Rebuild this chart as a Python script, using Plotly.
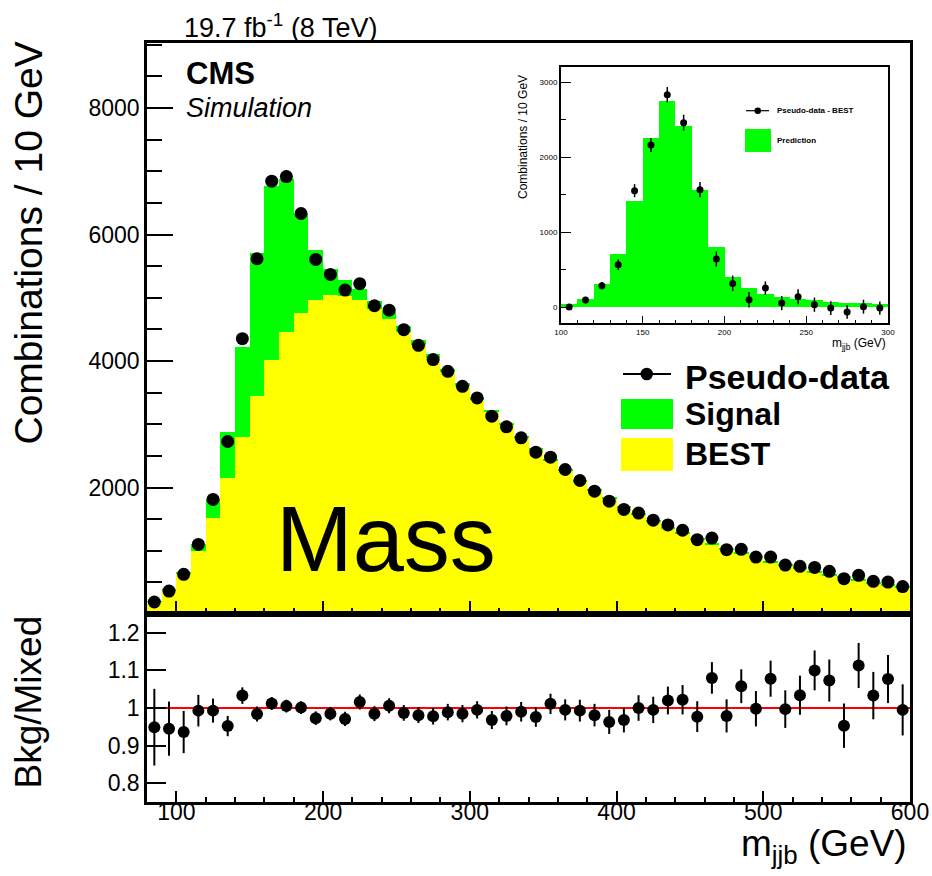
import plotly.graph_objects as go

# ---- binning: 10 GeV bins from 80 to 600 GeV (bin centres) ----
mjjb = [85, 95, 105, 115, 125, 135, 145, 155, 165, 175,
        185, 195, 205, 215, 225, 235, 245, 255, 265, 275,
        285, 295, 305, 315, 325, 335, 345, 355, 365, 375,
        385, 395, 405, 415, 425, 435, 445, 455, 465, 475,
        485, 495, 505, 515, 525, 535, 545, 555, 565, 575,
        585, 595]

# BEST background (yellow)
best = [195, 369, 625, 992, 1513, 2158, 2800, 3448, 4018, 4453,
        4758, 4959, 5050, 5023, 4960, 4815, 4669, 4460, 4254, 4050,
        3822, 3606, 3389, 3188, 2982, 2776, 2586, 2419, 2265, 2097,
        1953, 1827, 1684, 1572, 1469, 1359, 1275, 1184, 1093, 1021,
        949, 886, 819, 761, 713, 656, 614, 574, 536, 488,
        457, 423]

# correct-combination signal (green, stacked on BEST)
signal = [5, 15, 45, 116, 311, 716, 1422, 2258, 2751, 2422,
          1569, 800, 409, 262, 178, 138, 116, 94, 76, 62,
          58, 49, 45, 42, 40, 37, 35, 33, 31, 29,
          27, 26, 24, 23, 22, 21, 20, 19, 18, 18,
          17, 16, 16, 15, 15, 14, 14, 13, 13, 12,
          12, 12]

# pseudo-data
pseudo = [190, 363, 627, 1100, 1811, 2727, 4353, 5617, 6843, 6916,
          6332, 5606, 5369, 5122, 5222, 4874, 4803, 4495, 4248, 4022,
          3837, 3600, 3417, 3127, 2959, 2785, 2558, 2479, 2285, 2111,
          1942, 1784, 1653, 1595, 1484, 1408, 1324, 1175, 1200, 1017,
          1022, 900, 900, 774, 753, 737, 674, 559, 611, 516,
          505, 433]

# lower panel: Bkg/Mixed ratio and its uncertainty
ratio = [0.949, 0.945, 0.936, 0.993, 0.993, 0.952, 1.033, 0.984, 1.012, 1.005,
         1.001, 0.973, 0.985, 0.971, 1.016, 0.985, 1.006, 0.987, 0.981, 0.978,
         0.989, 0.985, 0.995, 0.968, 0.979, 0.990, 0.976, 1.011, 0.995, 0.993,
         0.981, 0.963, 0.968, 1.000, 0.995, 1.020, 1.022, 0.977, 1.080, 0.979,
         1.058, 0.998, 1.078, 0.997, 1.034, 1.100, 1.073, 0.953, 1.113, 1.033,
         1.077, 0.995]
ratio_err = [0.102, 0.072, 0.056, 0.042, 0.032, 0.027, 0.022, 0.020, 0.017, 0.017,
             0.017, 0.018, 0.018, 0.019, 0.020, 0.020, 0.020, 0.021, 0.021, 0.022,
             0.022, 0.023, 0.023, 0.024, 0.025, 0.026, 0.026, 0.027, 0.028, 0.029,
             0.030, 0.032, 0.033, 0.034, 0.035, 0.037, 0.039, 0.041, 0.042, 0.044,
             0.045, 0.047, 0.048, 0.050, 0.052, 0.053, 0.056, 0.059, 0.060, 0.063,
             0.064, 0.068]

# inset: pseudo-data minus BEST, 100-300 GeV
inset_x = [105, 115, 125, 135, 145, 155, 165, 175, 185, 195,
           205, 215, 225, 235, 245, 255, 265, 275, 285, 295]
inset_pts = [5, 98, 289, 569, 1556, 2165, 2836, 2462, 1569, 645,
             320, 102, 258, 58, 142, 36, -9, -62, 9, -9]
inset_err = [15, 42, 49, 71, 87, 93, 102, 107, 102, 100,
             104, 104, 89, 95, 100, 95, 92, 89, 93, 89]
inset_pred = [s for x, s in zip(mjjb, signal) if 100 < x < 300]

W, H = 932, 876
FONT = "Liberation Sans, Arial, Helvetica, sans-serif"
GREEN = "#00ff00"
YELLOW = "#ffff00"


def px(x):
    return x / W


def py(y):
    return 1 - y / H


fig = go.Figure()

# main panel: stacked histogram + pseudo-data
fig.add_trace(go.Bar(x=mjjb, y=best, width=10, marker=dict(color=YELLOW, line=dict(width=0)),
                     xaxis="x", yaxis="y", showlegend=False))
fig.add_trace(go.Bar(x=mjjb, y=signal, width=10, marker=dict(color=GREEN, line=dict(width=0)),
                     xaxis="x", yaxis="y", showlegend=False))
fig.add_trace(go.Scatter(x=mjjb, y=pseudo, mode="markers",
                         marker=dict(color="black", size=13),
                         xaxis="x", yaxis="y", showlegend=False))

# ratio panel
fig.add_trace(go.Scatter(x=[80, 600], y=[1, 1], mode="lines",
                         line=dict(color="#ff0000", width=2),
                         xaxis="x2", yaxis="y2", showlegend=False))
fig.add_trace(go.Scatter(x=mjjb, y=ratio, mode="markers",
                         marker=dict(color="black", size=12),
                         error_y=dict(type="data", array=ratio_err, color="black",
                                      thickness=2, width=0),
                         xaxis="x2", yaxis="y2", showlegend=False))
# carrier for the m_jjb tick-label axis under the ratio panel
fig.add_trace(go.Scatter(x=[80, 600], y=[1, 1], mode="markers",
                         marker=dict(opacity=0), hoverinfo="skip",
                         xaxis="x4", yaxis="y2", showlegend=False))

# inset
fig.add_trace(go.Bar(x=inset_x, y=inset_pred, width=10,
                     marker=dict(color=GREEN, line=dict(width=0)),
                     xaxis="x3", yaxis="y3", showlegend=False))
fig.add_trace(go.Scatter(x=inset_x, y=inset_pts, mode="markers",
                         marker=dict(color="black", size=7),
                         error_y=dict(type="data", array=inset_err, color="black",
                                      thickness=1.5, width=0),
                         xaxis="x3", yaxis="y3", showlegend=False))

xdom = [px(147), px(910)]
frame = dict(showline=True, linecolor="black", linewidth=2.5, mirror=True,
             showgrid=False, zeroline=False, ticks="inside", tickcolor="black",
             tickwidth=1.5, automargin=False)

layout = dict(
    width=W, height=H, autosize=False,
    margin=dict(l=0, r=0, t=0, b=0, pad=0, autoexpand=False),
    paper_bgcolor="white", plot_bgcolor="white",
    barmode="stack", bargap=0,
    font=dict(family=FONT, color="black"),
    xaxis=dict(frame, domain=xdom, range=[80, 600], anchor="y",
               showticklabels=False, tick0=0, dtick=100, ticklen=13,
               minor=dict(ticks="inside", tick0=0, dtick=20, ticklen=6,
                          tickcolor="black", tickwidth=1.5)),
    yaxis=dict(frame, domain=[py(614), py(43)], range=[0, 9028], anchor="x",
               tickmode="array", tickvals=[2000, 4000, 6000, 8000], ticklen=26,
               tickfont=dict(size=23, family=FONT),
               minor=dict(ticks="inside", tickmode="linear", tick0=0, dtick=500,
                          ticklen=15, tickcolor="black", tickwidth=1.5)),
    xaxis2=dict(frame, domain=xdom, range=[80, 600], anchor="y2",
                showticklabels=False, tick0=0, dtick=100, ticklen=11,
                minor=dict(ticks="inside", tick0=0, dtick=20, ticklen=5,
                           tickcolor="black", tickwidth=1.5)),
    xaxis4=dict(overlaying="x2", anchor="free", position=py(796), side="bottom",
                range=[80, 600], showline=False, showgrid=False, zeroline=False,
                ticks="", tick0=0, dtick=100, automargin=False,
                tickfont=dict(size=23, family=FONT)),
    yaxis2=dict(frame, domain=[py(802), py(614)], range=[0.75, 1.25], anchor="x2",
                tickmode="array", tickvals=[0.8, 0.9, 1.0, 1.1, 1.2],
                ticktext=["0.8", "0.9", "1", "1.1", "1.2"], ticklen=19,
                tickfont=dict(size=23, family=FONT)),
    xaxis3=dict(frame, domain=[px(561), px(888)], range=[100, 300], anchor="y3",
                linewidth=2, tick0=0, dtick=50, ticklen=7, tickwidth=1,
                tickfont=dict(size=8, family=FONT),
                minor=dict(ticks="inside", tick0=0, dtick=10, ticklen=3,
                           tickcolor="black", tickwidth=1)),
    yaxis3=dict(frame, domain=[py(323), py(67)], range=[-208, 3205], anchor="x3",
                linewidth=2, tick0=0, dtick=1000, ticklen=10, tickwidth=1,
                tickfont=dict(size=8, family=FONT),
                minor=dict(ticks="inside", tick0=0, dtick=500, ticklen=5,
                           tickcolor="black", tickwidth=1)),
)
fig.update_layout(**layout)

ann = []


def text(x, y, s, size, xa="left", ya="middle", angle=0, bold=False, italic=False):
    ann.append(dict(x=px(x), y=py(y), xref="paper", yref="paper", text=s,
                    showarrow=False, xanchor=xa, yanchor=ya, textangle=angle,
                    font=dict(size=size, family=FONT, color="black",
                              weight="bold" if bold else "normal",
                              style="italic" if italic else "normal")))


# axis titles
text(28, 40, "Combinations / 10 GeV", 39, xa="center", ya="top", angle=-90)
text(28, 614, "Bkg/Mixed", 37, xa="center", ya="top", angle=-90)
text(909, 846, "m<sub>jjb</sub> (GeV)", 37, xa="right")

# header labels
text(182, 26, "19.7 fb<sup>-1</sup> (8 TeV)", 27)
text(184, 74, "CMS", 31, bold=True)
text(184, 108, "Simulation", 27, italic=True)
text(386, 539, "Mass", 92, xa="center")

# main legend
text(683, 377, "Pseudo-data", 34, bold=True)
text(683, 414, "Signal", 32, bold=True)
text(683, 454, "BEST", 32, bold=True)

# inset titles and legend
text(523, 73, "Combinations / 10 GeV", 12, xa="center", ya="top", angle=-90)
text(888, 344, "m<sub>jjb</sub> (GeV)", 12, xa="right")
text(775, 111, "Pseudo-data - BEST", 8, bold=True)
text(775, 141, "Prediction", 8, bold=True)

fig.update_layout(annotations=ann)

shapes = [
    # main legend symbols
    dict(type="line", x0=px(623), x1=px(671), y0=py(374), y1=py(374),
         line=dict(color="black", width=2)),
    dict(type="circle", x0=px(640.5), x1=px(653), y0=py(380.3), y1=py(367.7),
         fillcolor="black", line=dict(color="black", width=0)),
    dict(type="rect", x0=px(621), x1=px(673), y0=py(429), y1=py(399),
         fillcolor=GREEN, line=dict(width=0)),
    dict(type="rect", x0=px(621), x1=px(673), y0=py(471), y1=py(438),
         fillcolor=YELLOW, line=dict(width=0)),
    # inset legend symbols
    dict(type="line", x0=px(746), x1=px(769), y0=py(110.7), y1=py(110.7),
         line=dict(color="black", width=1.2)),
    dict(type="circle", x0=px(754.5), x1=px(761), y0=py(114), y1=py(107.5),
         fillcolor="black", line=dict(color="black", width=0)),
    dict(type="rect", x0=px(745), x1=px(771), y0=py(152), y1=py(129),
         fillcolor=GREEN, line=dict(width=0)),
]
for s in shapes:
    s.update(xref="paper", yref="paper")
fig.update_layout(shapes=shapes)

page_style = ("document.body.style.margin='0';"
              "document.body.style.overflow='hidden';")
fig.write_html("out.html", config={"responsive": False}, post_script=page_style)
